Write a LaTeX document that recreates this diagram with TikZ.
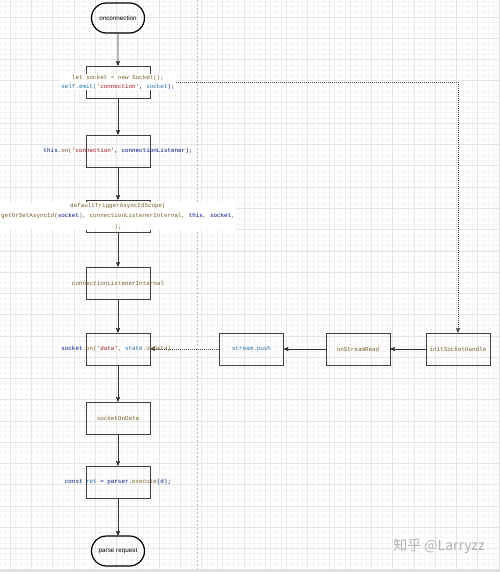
\documentclass[tikz,border=0pt]{standalone}
\usepackage{fontspec}
\setmainfont{Liberation Sans}
\setmonofont{Liberation Mono}
\newfontfamily\cjkfont{Noto Sans CJK SC}
\usetikzlibrary{shapes,arrows,positioning}
\definecolor{fncol}{HTML}{795E26}
\definecolor{varcol}{HTML}{001080}
\definecolor{strcol}{HTML}{A31515}
\definecolor{typcol}{HTML}{1F6FA8}
\newcommand\cfn[1]{\textcolor{fncol}{#1}}
\newcommand\cvar[1]{\textcolor{varcol}{#1}}
\newcommand\cstr[1]{\textcolor{strcol}{#1}}
\newcommand\ctyp[1]{\textcolor{typcol}{#1}}
\tikzset{
    box/.style={
           rectangle,
           draw=black!75, line width=0.8pt,
           minimum width=64pt,
           minimum height=32pt,
           inner sep=0pt
           },
    terminal/.style={
           rounded rectangle,
           draw=black, line width=1.2pt,
           minimum width=53pt,
           minimum height=30pt,
           inner sep=0pt,
           font=\fontsize{6.3}{7}\selectfont
           },
    code/.style={
           inner sep=1pt,
           align=center,
           font=\ttfamily\fontsize{5.9}{9}\selectfont
           },
    flow/.style={->, draw=black!80, line width=0.7pt},
    link/.style={->, draw=black!70, line width=0.7pt, dash pattern=on 1pt off 1pt},
    gridminor/.style={draw=black!4, line width=0.5pt},
    gridmajor/.style={draw=black!10, line width=0.5pt},
    pagebreak/.style={draw=black!25, line width=1pt, dash pattern=on 2pt off 2pt}
}
\begin{document}
\begin{tikzpicture}[x=1pt, y=-1pt, >=stealth', on grid]
\useasboundingbox (0,0) rectangle (500,572);
% background grid
\foreach \i in {0,...,94} \draw[gridminor] ({4.9+\i*5.3125},0) -- ({4.9+\i*5.3125},572);
\foreach \i in {0,...,107} \draw[gridminor] (0,{1.06+\i*5.3125}) -- (500,{1.06+\i*5.3125});
\foreach \i in {0,...,23} \draw[gridmajor] ({10.2+\i*21.25},0) -- ({10.2+\i*21.25},572);
\foreach \i in {0,...,26} \draw[gridmajor] (0,{17+\i*21.25}) -- (500,{17+\i*21.25});
\draw[pagebreak] (197,0) -- (197,572);
\fill[black!12] (0,569) rectangle (500,572);
% main column
   \node[terminal] (start) at (118,18) {onconnection};
   \node[box] (b1)[below=64pt of start] {};
   \node[box] (b2)[below=69pt of b1] {};
   \node[box] (b3)[below=65pt of b2] {};
   \node[box] (b4)[below=67pt of b3] {};
   \node[box] (b5)[below=66pt of b4] {};
   \node[box] (b6)[below=69pt of b5] {};
   \node[box] (b7)[below=64pt of b6] {};
   \node[terminal] (end)[below=69pt of b7] {parse request};
% right row
   \node[box] (push)[right=133.5pt of b5] {};
   \node[box] (read)[right=106.5pt of push] {};
   \node[box] (init)[right=100pt of read] {};
% labels
   \node[code, fill=white] (t1) at (b1) {\cfn{let socket = new Socket();}\\
      \ctyp{self.emit(}\cstr{'connection'}\cvar{,} \ctyp{socket}\cvar{);}};
   \node[code] (t2) at (b2) {\cvar{this}\cfn{.on(}\cstr{'connection'}\cvar{,} \cvar{connectionListener);}};
   \node[code, fill=white, font=\ttfamily\fontsize{5.9}{10.5}\selectfont] (t3) at (b3)
      {\cfn{defaultTriggerAsyncIdScope(}\\
       \cfn{getOrSetAsyncId(}\cvar{socket}\cfn{), connectionListenerInternal,} \cvar{this}\cfn{,} \cvar{socket}\cfn{,}\\
       \cfn{);}};
   \node[code] (t4) at (b4) {\cfn{connectionListenerInternal}};
   \node[code] (t5) at (b5) {\cvar{socket}\cfn{.on(}\cstr{'data'}\cfn{,} \ctyp{state}\cfn{.onData);}};
   \node[code] (t6) at (b6) {\cfn{socketOnData}};
   \node[code] (t7) at (b7) {\cvar{const} \ctyp{ret} \cvar{= parser.}\cfn{execute}\cvar{(d);}};
   \node[code] (t8) at (push) {\ctyp{stream.push}};
   \node[code] (t9) at (read) {\cfn{onStreamRead}};
   \node[code] (t10) at (init) {\cfn{initSocketHandle}};
% connectors
   \path[flow]
    (start) edge (b1)
    (b1) edge (b2)
    (b2) edge (b3)
    (b3) edge (b4)
    (b4) edge (b5)
    (b5) edge (b6)
    (b6) edge (b7)
    (b7) edge (end)
    (init) edge (read)
    (read) edge (push);
   \draw[link] (t1.east) -| (init.north);
   \draw[link] (push) -- (b5);
% watermark
   \node[text=black!30, font=\cjkfont\fontsize{14}{14}\selectfont] (mark) at (439,546) {知乎 @Larryzz};
\end{tikzpicture}
\end{document}
